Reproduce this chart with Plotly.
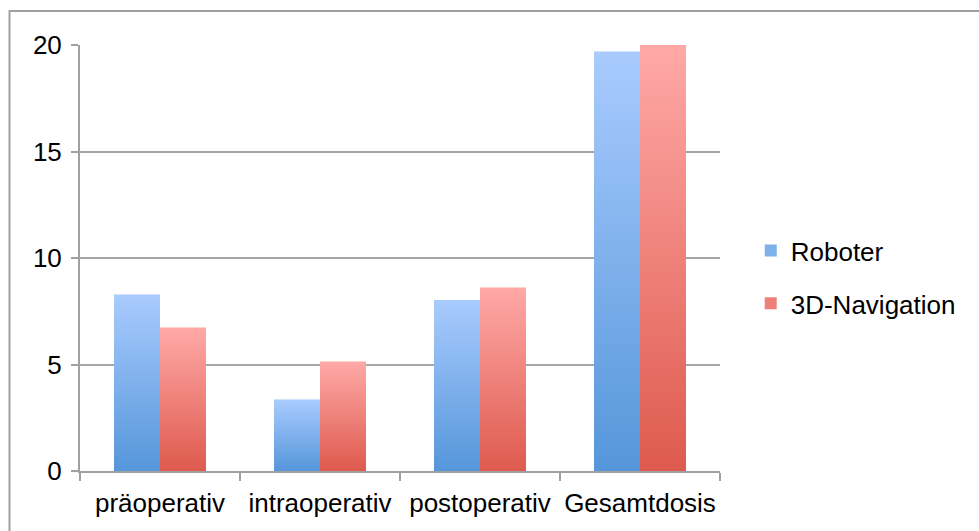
import plotly.graph_objects as go

# Dose per phase, two procedures
categories = ["präoperativ", "intraoperativ", "postoperativ", "Gesamtdosis"]
roboter = [8.27, 3.35, 8.03, 19.68]
navigation_3d = [6.72, 5.13, 8.60, 20.0]
y_ticks = [0, 5, 10, 15, 20]

series = [
    ("Roboter", roboter, -0.2875, "#5596DA", "#A9CBFE", "#7FB0EA"),
    ("3D-Navigation", navigation_3d, 0.0, "#DE5A4E", "#FFA9A7", "#EE8079"),
]
bar_w = 0.2875
font = "Liberation Sans, Arial, sans-serif"

fig = go.Figure()

# Plain bars: carry the values and the legend entries
for k, (name, vals, off, dark, light, mid) in enumerate(series):
    fig.add_trace(go.Bar(
        x=categories, y=vals, name=name, offset=off, width=bar_w,
        marker=dict(color=mid, line=dict(width=0)),
        legendgroup=name, showlegend=True,
    ))

# Gradient skin over each bar, drawn on an overlaid numeric axis
for k, (name, vals, off, dark, light, mid) in enumerate(series):
    for i, v in enumerate(vals):
        x0 = i + off
        x1 = x0 + bar_w
        fig.add_trace(go.Scatter(
            x=[x0, x0, x1, x1, x0], y=[0, v, v, 0, 0],
            xaxis="x2", mode="lines", line=dict(width=0),
            fill="toself",
            fillgradient=dict(type="vertical",
                              colorscale=[[0, dark], [1, light]]),
            showlegend=False, hoverinfo="skip", legendgroup=name,
        ))

fig.update_layout(
    width=979, height=531,
    margin=dict(l=80, r=259, t=45, b=60, autoexpand=False),
    paper_bgcolor="white", plot_bgcolor="white",
    barmode="overlay",
    font=dict(family=font, size=26, color="black"),
    xaxis=dict(
        type="category", range=[-0.5, 3.5], tickson="boundaries",
        tickangle=0, automargin=False, ticklabelstandoff=8,
        ticks="outside", ticklen=8, tickwidth=2, tickcolor="#A0A0A0",
        showline=True, linecolor="#A0A0A0", linewidth=2,
        showgrid=False, zeroline=False,
        tickfont=dict(family=font, size=26, color="black"),
    ),
    xaxis2=dict(
        overlaying="x", range=[-0.5, 3.5], visible=False,
        showgrid=False, zeroline=False,
    ),
    yaxis=dict(
        range=[0, 20], tickvals=y_ticks, ticks="outside", ticklen=7,
        tickwidth=2, tickcolor="#A0A0A0", automargin=False,
        showline=True, linecolor="#A0A0A0", linewidth=2,
        showgrid=True, gridcolor="#A6A6A6", gridwidth=2,
        zeroline=False, ticklabelstandoff=4,
        tickfont=dict(family=font, size=26, color="black"),
    ),
    legend=dict(
        x=1.048, xanchor="left", y=0.455, yanchor="middle",
        traceorder="grouped", tracegroupgap=16,
        font=dict(family=font, size=26, color="black"),
        bgcolor="rgba(0,0,0,0)",
    ),
    shapes=[dict(
        type="rect", xref="paper", yref="paper",
        x0=(9.5 - 80) / 640, x1=(990 - 80) / 640,
        y0=(471 - 545) / 426, y1=(471 - 11) / 426,
        line=dict(color="#A0A0A0", width=2), fillcolor="rgba(0,0,0,0)",
        layer="below",
    )],
    showlegend=True,
)

fig.write_html("out.html")
